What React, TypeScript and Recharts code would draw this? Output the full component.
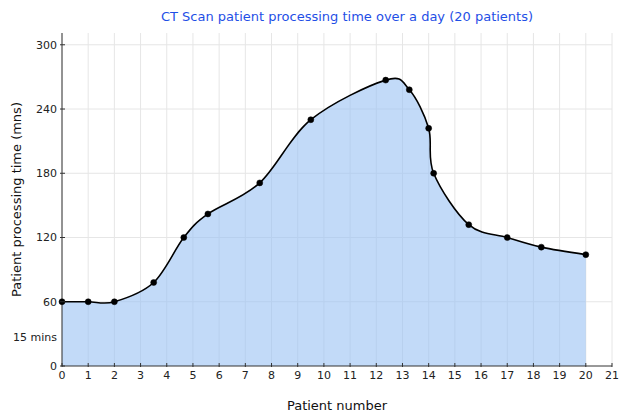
import React from "react";
import { AreaChart, Area, XAxis, YAxis, CartesianGrid, Label } from "recharts";

const patientX = [0, 1, 2, 3.5, 4.65, 5.57, 7.55, 9.5, 12.36, 13.26, 14.0, 14.19, 15.53, 17.0, 18.3, 20];
const minutes = [60, 60, 60, 78, 120, 142, 171, 230, 267, 258, 222, 180, 132, 120, 111, 104];
const xTicks = [0, 1, 2, 3, 4, 5, 6, 7, 8, 9, 10, 11, 12, 13, 14, 15, 16, 17, 18, 19, 20, 21];
const yTicks = [0, 27, 60, 120, 180, 240, 300];
const yTickLabels: Record<number, string> = { 27: "15 mins" };
const yGrid = [60, 120, 180, 240, 300];

const data = patientX.map((x, i) => ({ x, y: minutes[i] }));

// Catmull-Rom style cardinal spline (tension 0) as a d3-compatible curve factory
function cardinalPoint(that: any, x: number, y: number) {
  const k = that._k;
  that._context.bezierCurveTo(
    that._x1 + k * (that._x2 - that._x0),
    that._y1 + k * (that._y2 - that._y0),
    that._x2 + k * (that._x1 - x),
    that._y2 + k * (that._y1 - y),
    that._x2,
    that._y2
  );
}
class CardinalCurve {
  _context: any;
  _k: number;
  _line: number = NaN;
  _point = 0;
  _x0 = NaN; _x1 = NaN; _x2 = NaN; _y0 = NaN; _y1 = NaN; _y2 = NaN;
  constructor(context: any) {
    this._context = context;
    this._k = 1 / 6;
  }
  areaStart() { this._line = 0; }
  areaEnd() { this._line = NaN; }
  lineStart() {
    this._x0 = this._x1 = this._x2 = this._y0 = this._y1 = this._y2 = NaN;
    this._point = 0;
  }
  lineEnd() {
    switch (this._point) {
      case 2: this._context.lineTo(this._x2, this._y2); break;
      case 3: cardinalPoint(this, this._x1, this._y1); break;
    }
    if (this._line || (this._line !== 0 && this._point === 1)) this._context.closePath();
    this._line = 1 - this._line;
  }
  point(x: number, y: number) {
    x = +x; y = +y;
    switch (this._point) {
      case 0:
        this._point = 1;
        if (this._line) this._context.lineTo(x, y); else this._context.moveTo(x, y);
        break;
      case 1:
        this._point = 2; this._x1 = x; this._y1 = y;
        break;
      case 2:
        this._point = 3;
        cardinalPoint(this, x, y);
        break;
      default:
        cardinalPoint(this, x, y);
        break;
    }
    this._x0 = this._x1; this._x1 = this._x2; this._x2 = x;
    this._y0 = this._y1; this._y1 = this._y2; this._y2 = y;
  }
}
const catmullRom: any = (context: any) => new CardinalCurve(context);

const FONT = "'DejaVu Sans', sans-serif";

const XTick = (props: any) => {
  const { x, y, payload } = props;
  const axisY = y - 5;
  return (
    <g>
      <line x1={x} x2={x} y1={axisY - 3} y2={axisY + 1} stroke="#333" strokeWidth={1} />
      <text x={x} y={y} dy="0.71em" textAnchor="middle" fontFamily={FONT} fontSize={11} fill="#222">
        {payload.value}
      </text>
    </g>
  );
};

const YTick = (props: any) => {
  const { x, y, payload } = props;
  const axisX = x + 5;
  const label = yTickLabels[payload.value] ?? String(payload.value);
  const showLine = !(payload.value in yTickLabels);
  return (
    <g>
      {showLine && <line x1={axisX - 2} x2={axisX + 3} y1={y} y2={y} stroke="#333" strokeWidth={1} />}
      <text x={x} y={y} dy="0.35em" textAnchor="end" fontFamily={FONT} fontSize={11} fill="#222">
        {label}
      </text>
    </g>
  );
};

export default function App() {
  return (
    <div style={{ position: "absolute", left: 0, top: 0, width: 629, height: 414, background: "#fff" }}>
      <div
        style={{
          position: "absolute",
          left: 0,
          top: 9,
          width: 694,
          textAlign: "center",
          fontFamily: FONT,
          fontSize: 13,
          color: "#1f4fe6",
          lineHeight: "16px",
        }}
      >
        CT Scan patient processing time over a day (20 patients)
      </div>
      <AreaChart
        width={629}
        height={414}
        data={data}
        margin={{ top: 33, right: 17, bottom: 0, left: 0 }}
      >
        <CartesianGrid
          stroke="#e6e6e6"
          strokeWidth={1}
          horizontalValues={yGrid}
          verticalValues={xTicks}
        />
        <XAxis
          dataKey="x"
          type="number"
          domain={[0, 21]}
          ticks={xTicks}
          interval={0}
          height={48}
          tickSize={0}
          tickMargin={5}
          tickLine={false}
          axisLine={{ stroke: "#333", strokeWidth: 1 }}
          tick={<XTick />}
        >
          <Label
            value="Patient number"
            position="insideBottom"
            offset={4}
            fontFamily={FONT}
            fontSize={13}
            fill="#111"
          />
        </XAxis>
        <YAxis
          type="number"
          domain={[0, 311]}
          ticks={yTicks}
          interval={0}
          width={62}
          tickSize={0}
          tickMargin={5}
          tickLine={false}
          axisLine={{ stroke: "#333", strokeWidth: 1 }}
          tick={<YTick />}
        >
          <Label
            value="Patient processing time (mns)"
            angle={-90}
            position="insideLeft"
            offset={16}
            fontFamily={FONT}
            fontSize={13}
            fill="#111"
            style={{ textAnchor: "middle" }}
          />
        </YAxis>
        <Area
          dataKey="y"
          type={catmullRom}
          stroke="#000"
          strokeWidth={1.6}
          fill="rgb(153,193,243)"
          fillOpacity={0.6}
          dot={{ r: 3, fill: "#000", fillOpacity: 1, stroke: "#000", strokeWidth: 0.5 }}
          activeDot={false}
          isAnimationActive={false}
        />
      </AreaChart>
    </div>
  );
}
